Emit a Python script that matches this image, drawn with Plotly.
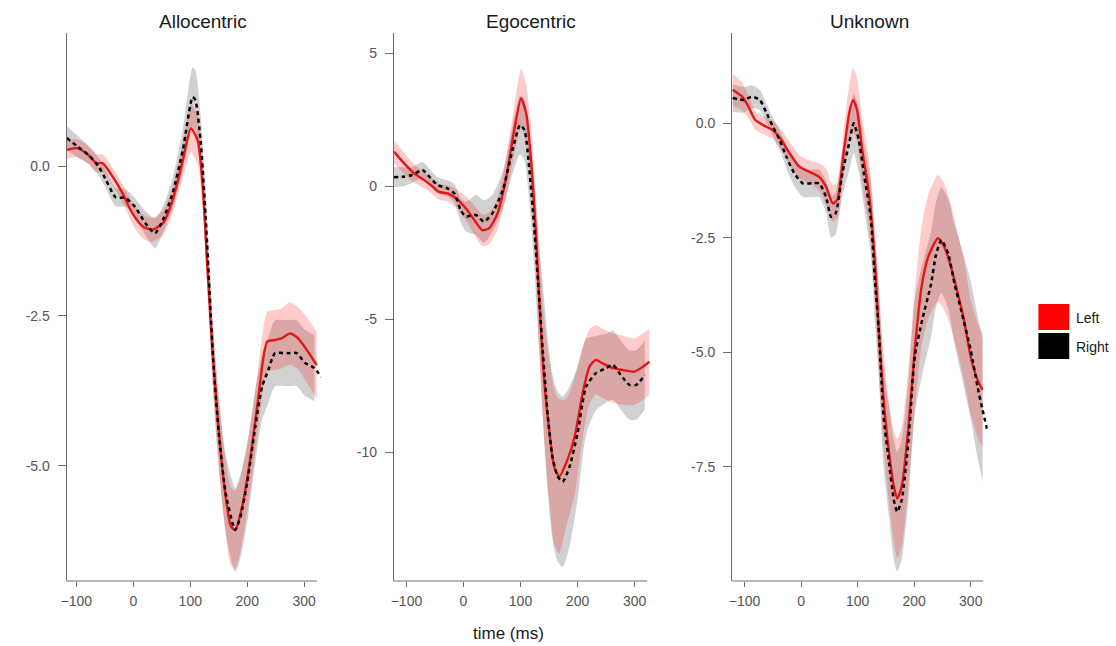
import numpy as np
import plotly.graph_objects as go

W, H = 1116, 646

panel_titles = ["Allocentric", "Egocentric", "Unknown"]
x_ticks = [-100, 0, 100, 200, 300]

# ---------------- Allocentric ----------------
allo_left_x = [-117, -100, -82, -65, -54, -36, -19, -2, 17, 34, 52, 69, 87, 101, 113, 122, 130, 139, 148, 159,
               171, 179, 191, 205, 219, 235, 249, 261, 275, 289, 307, 322]
allo_left_y = [0.27, 0.30, 0.21, 0.05, 0.05, -0.18, -0.45, -0.78, -1.01, -1.06, -0.95, -0.57, 0.10, 0.63, 0.43,
               -0.35, -1.68, -3.07, -4.18, -5.28, -6.00, -6.07, -5.68, -4.90, -3.90, -2.93, -2.90, -2.87, -2.79,
               -2.87, -3.10, -3.32]
allo_left_se = [0.15, 0.15, 0.15, 0.15, 0.15, 0.15, 0.15, 0.18, 0.2, 0.2, 0.2, 0.22, 0.3, 0.4, 0.4, 0.4, 0.45,
                0.5, 0.55, 0.6, 0.65, 0.65, 0.6, 0.55, 0.5, 0.5, 0.5, 0.5, 0.52, 0.52, 0.55, 0.55]
allo_right_x = [-117, -97, -78, -60, -48, -31, -14, 3, 21, 38, 52, 69, 87, 104, 109, 118, 127, 136, 141, 150,
                162, 174, 179, 188, 200, 214, 226, 237, 244, 249, 272, 287, 301, 318, 330]
allo_right_y = [0.47, 0.32, 0.18, -0.02, -0.23, -0.52, -0.53, -0.68, -0.95, -1.12, -0.90, -0.45, 0.27, 1.15,
                1.10, 0.43, -0.85, -2.50, -3.35, -4.45, -5.45, -5.95, -6.07, -5.85, -5.28, -4.35, -3.68, -3.40,
                -3.20, -3.12, -3.12, -3.12, -3.28, -3.37, -3.52]
allo_right_se = [0.2, 0.18, 0.15, 0.15, 0.15, 0.15, 0.15, 0.15, 0.2, 0.25, 0.22, 0.25, 0.35, 0.5, 0.5, 0.45,
                 0.45, 0.5, 0.55, 0.6, 0.65, 0.7, 0.7, 0.7, 0.65, 0.6, 0.55, 0.55, 0.55, 0.55, 0.55, 0.55, 0.55,
                 0.55, 0.55]

# ---------------- Egocentric ----------------
ego_left_x = [-122, -104, -87, -69, -54, -43, -28, -13, 4, 19, 33, 45, 60, 74, 89, 101, 110, 118, 127, 133,
              142, 151, 159, 168, 180, 195, 209, 221, 232, 244, 262, 279, 300, 315, 326]
ego_left_y = [1.31, 0.87, 0.50, 0.24, 0.0, -0.20, -0.26, -0.44, -0.82, -1.26, -1.64, -1.57, -1.0, 0.24, 2.12,
              3.32, 2.75, 1.12, -1.76, -4.27, -7.4, -9.28, -10.53, -10.9, -10.4, -9.4, -7.77, -6.77, -6.52,
              -6.65, -6.83, -6.9, -6.96, -6.77, -6.59]
ego_left_se = [0.45, 0.4, 0.35, 0.3, 0.3, 0.3, 0.3, 0.35, 0.45, 0.55, 0.6, 0.6, 0.6, 0.7, 0.9, 1.1, 1.1, 1.2,
               1.5, 1.9, 2.3, 2.7, 2.9, 2.9, 2.4, 2.2, 1.7, 1.4, 1.3, 1.3, 1.3, 1.3, 1.25, 1.25, 1.25]
ego_right_x = [-122, -104, -90, -72, -60, -46, -28, -16, -5, 4, 22, 36, 51, 69, 86, 99, 107, 115, 124, 133,
               139, 148, 156, 165, 174, 186, 200, 215, 232, 250, 262, 276, 291, 303, 318]
ego_right_y = [0.35, 0.37, 0.43, 0.62, 0.37, 0.06, -0.07, -0.26, -0.88, -1.13, -1.07, -1.32, -1.0, -0.13, 1.37,
               2.31, 2.12, 0.74, -1.51, -4.27, -6.15, -8.65, -10.16, -10.9, -11.1, -10.53, -9.28, -7.53, -7.02,
               -6.83, -6.71, -7.09, -7.46, -7.46, -7.09]
ego_right_se = [0.37, 0.35, 0.3, 0.3, 0.3, 0.3, 0.3, 0.35, 0.45, 0.55, 0.75, 0.8, 0.7, 0.7, 0.9, 1.1, 1.15,
                1.2, 1.5, 2.0, 2.5, 2.9, 3.1, 3.2, 3.2, 3.0, 2.5, 1.8, 1.4, 1.3, 1.3, 1.3, 1.3, 1.3, 1.3]

# ---------------- Unknown ----------------
unk_left_x = [-121, -104, -93, -81, -67, -50, -35, -20, -3, 15, 32, 44, 56, 64, 76, 85, 92, 99, 108, 120,
              131, 137, 146, 155, 164, 170, 178, 190, 201, 213, 225, 242, 253, 265, 277, 288, 300, 312, 321]
unk_left_y = [0.73, 0.58, 0.36, 0.07, -0.04, -0.15, -0.36, -0.66, -0.95, -1.06, -1.17, -1.38, -1.75, -1.67,
              -0.58, 0.22, 0.51, 0.29, -0.58, -1.53, -3.13, -4.44, -6.04, -7.13, -7.93, -8.19, -7.93, -6.62,
              -4.95, -3.57, -2.91, -2.51, -2.69, -3.13, -3.71, -4.29, -5.10, -5.60, -5.82]
unk_left_se = [0.35, 0.3, 0.25, 0.2, 0.2, 0.2, 0.22, 0.25, 0.25, 0.25, 0.3, 0.4, 0.4, 0.4, 0.5, 0.6, 0.7, 0.7,
               0.7, 0.75, 0.8, 0.9, 1.0, 1.1, 1.2, 1.3, 1.3, 1.3, 1.3, 1.3, 1.35, 1.38, 1.38, 1.35, 1.3, 1.3,
               1.25, 1.25, 1.25]
unk_right_x = [-121, -102, -87, -73, -61, -50, -38, -26, -12, 3, 20, 32, 44, 53, 61, 73, 85, 93, 102, 111,
               123, 131, 137, 146, 155, 164, 170, 178, 190, 201, 214, 230, 238, 248, 260, 271, 283, 300, 312,
               321, 330]
unk_right_y = [0.55, 0.51, 0.58, 0.51, 0.22, -0.07, -0.36, -0.73, -1.09, -1.31, -1.31, -1.31, -1.6, -2.04,
               -1.97, -1.09, -0.44, 0.0, -0.36, -1.09, -2.04, -3.49, -4.44, -6.41, -7.35, -8.22, -8.48, -8.22,
               -6.91, -5.1, -4.3, -3.5, -2.9, -2.55, -2.84, -3.49, -4.08, -4.95, -5.75, -6.26, -6.73]
unk_right_se = [0.3, 0.28, 0.25, 0.22, 0.2, 0.2, 0.22, 0.25, 0.28, 0.3, 0.3, 0.3, 0.35, 0.45, 0.45, 0.5, 0.6,
                0.65, 0.7, 0.7, 0.8, 0.9, 1.0, 1.1, 1.2, 1.3, 1.3, 1.3, 1.3, 1.25, 1.2, 1.15, 1.15, 1.15, 1.2,
                1.3, 1.4, 1.5, 1.55, 1.55, 1.55]

y_ticks = [[-5, -2.5, 0], [-10, -5, 0, 5], [-7.5, -5, -2.5, 0]]
y_ticktext = [["-5.0", "-2.5", "0.0"], ["-10", "-5", "0", "5"], ["-7.5", "-5.0", "-2.5", "0.0"]]

# ---------------- layout geometry ----------------
x_ranges = [[-117, 330], [-122, 328], [-122, 330]]
x_line_end = 322
y_ranges = [[-6.92, 2.22], [-14.83, 5.77], [-9.99, 1.97]]
px_domains = [(61, 317), (390, 648), (730, 987)]
y_dom = [(H - 581) / H, (H - 33) / H]
title_px = [198, 528, 868]

LEFT_LINE = "#e01818"
RIGHT_LINE = "#000000"
LEFT_FILL = "rgba(255,0,0,0.20)"
RIGHT_FILL = "rgba(0,0,0,0.18)"
AXIS_COLOR = "#6e6e6e"
BAND_MAX_X = 326
FONT = "Liberation Sans, Arial, sans-serif"

panels = [
    (allo_left_x, allo_left_y, allo_left_se, allo_right_x, allo_right_y, allo_right_se),
    (ego_left_x, ego_left_y, ego_left_se, ego_right_x, ego_right_y, ego_right_se),
    (unk_left_x, unk_left_y, unk_left_se, unk_right_x, unk_right_y, unk_right_se),
]

fig = go.Figure()
SPL = dict(shape="spline", smoothing=0.6)


def add_band(x, y, se, xa, ya, fill):
    x = np.asarray(x, float)
    y = np.asarray(y, float)
    se = np.asarray(se, float)
    m = x <= BAND_MAX_X
    fig.add_trace(go.Scatter(x=x[m], y=(y + se)[m], mode="lines", line=dict(width=0, **SPL),
                             xaxis=xa, yaxis=ya, hoverinfo="skip", showlegend=False))
    fig.add_trace(go.Scatter(x=x[m], y=(y - se)[m], mode="lines", line=dict(width=0, **SPL),
                             fill="tonexty", fillcolor=fill,
                             xaxis=xa, yaxis=ya, hoverinfo="skip", showlegend=False))


shapes = []
for i, (lx, ly, lse, rx, ry, rse) in enumerate(panels):
    sfx = "" if i == 0 else str(i + 1)
    xa, ya = "x" + sfx, "y" + sfx
    add_band(rx, ry, rse, xa, ya, RIGHT_FILL)
    add_band(lx, ly, lse, xa, ya, LEFT_FILL)
    fig.add_trace(go.Scatter(x=lx, y=ly, mode="lines", name="Left",
                             line=dict(color=LEFT_LINE, width=2.4, **SPL),
                             xaxis=xa, yaxis=ya, showlegend=False))
    fig.add_trace(go.Scatter(x=rx, y=ry, mode="lines", name="Right",
                             line=dict(color=RIGHT_LINE, width=2.5, dash="4px,3.5px", **SPL),
                             xaxis=xa, yaxis=ya, showlegend=False))

    d0, d1 = px_domains[i]
    axis_common = dict(showgrid=False, zeroline=False,
                       ticks="outside", tickcolor=AXIS_COLOR, tickwidth=1.2,
                       tickfont=dict(family=FONT, size=14, color="#555555"))
    fig.layout["xaxis" + sfx] = dict(domain=[d0 / W, d1 / W], range=x_ranges[i], anchor=ya,
                                     showline=False, tickvals=x_ticks, ticklen=5,
                                     ticklabelstandoff=2, fixedrange=True, **axis_common)
    fig.layout["yaxis" + sfx] = dict(domain=y_dom, range=y_ranges[i], anchor=xa,
                                     showline=True, linecolor=AXIS_COLOR, linewidth=1.2,
                                     tickvals=y_ticks[i], ticktext=y_ticktext[i], ticklen=8,
                                     ticklabelstandoff=5, fixedrange=True, **axis_common)
    # x-axis baseline (ends slightly before the data end, as in the original)
    shapes.append(dict(type="line", xref=xa, yref=ya + " domain", x0=x_ranges[i][0], x1=x_line_end,
                       y0=0, y1=0, line=dict(color=AXIS_COLOR, width=1.2), layer="above"))

annotations = []
for i, t in enumerate(panel_titles):
    annotations.append(dict(text=t, x=title_px[i] / W, y=1 - 22 / H, xref="paper", yref="paper",
                            xanchor="center", yanchor="middle", showarrow=False,
                            font=dict(family=FONT, size=19, color="#1a1a1a")))
annotations.append(dict(text="time (ms)", x=505 / W, y=1 - 633 / H, xref="paper", yref="paper",
                        xanchor="center", yanchor="middle", showarrow=False,
                        font=dict(family=FONT, size=17, color="#1a1a1a")))

legend_labels = ["Left", "Right"]
legend_colors = ["#ff0000", "#000000"]
for k, (lab, col) in enumerate(zip(legend_labels, legend_colors)):
    top = 304 + k * 29
    shapes.append(dict(type="rect", xref="paper", yref="paper", x0=1038 / W, x1=1069 / W,
                       y0=1 - (top + 26) / H, y1=1 - top / H, fillcolor=col, line=dict(width=0)))
    annotations.append(dict(text=lab, x=1074 / W, y=1 - (top + 14) / H, xref="paper", yref="paper",
                            xanchor="left", yanchor="middle", showarrow=False,
                            font=dict(family=FONT, size=14, color="#1a1a1a")))

fig.update_layout(width=W, height=H, margin=dict(l=0, r=0, t=0, b=0),
                  paper_bgcolor="white", plot_bgcolor="white",
                  annotations=annotations, shapes=shapes, showlegend=False)

fig.write_html("out.html", config={"displayModeBar": False})
